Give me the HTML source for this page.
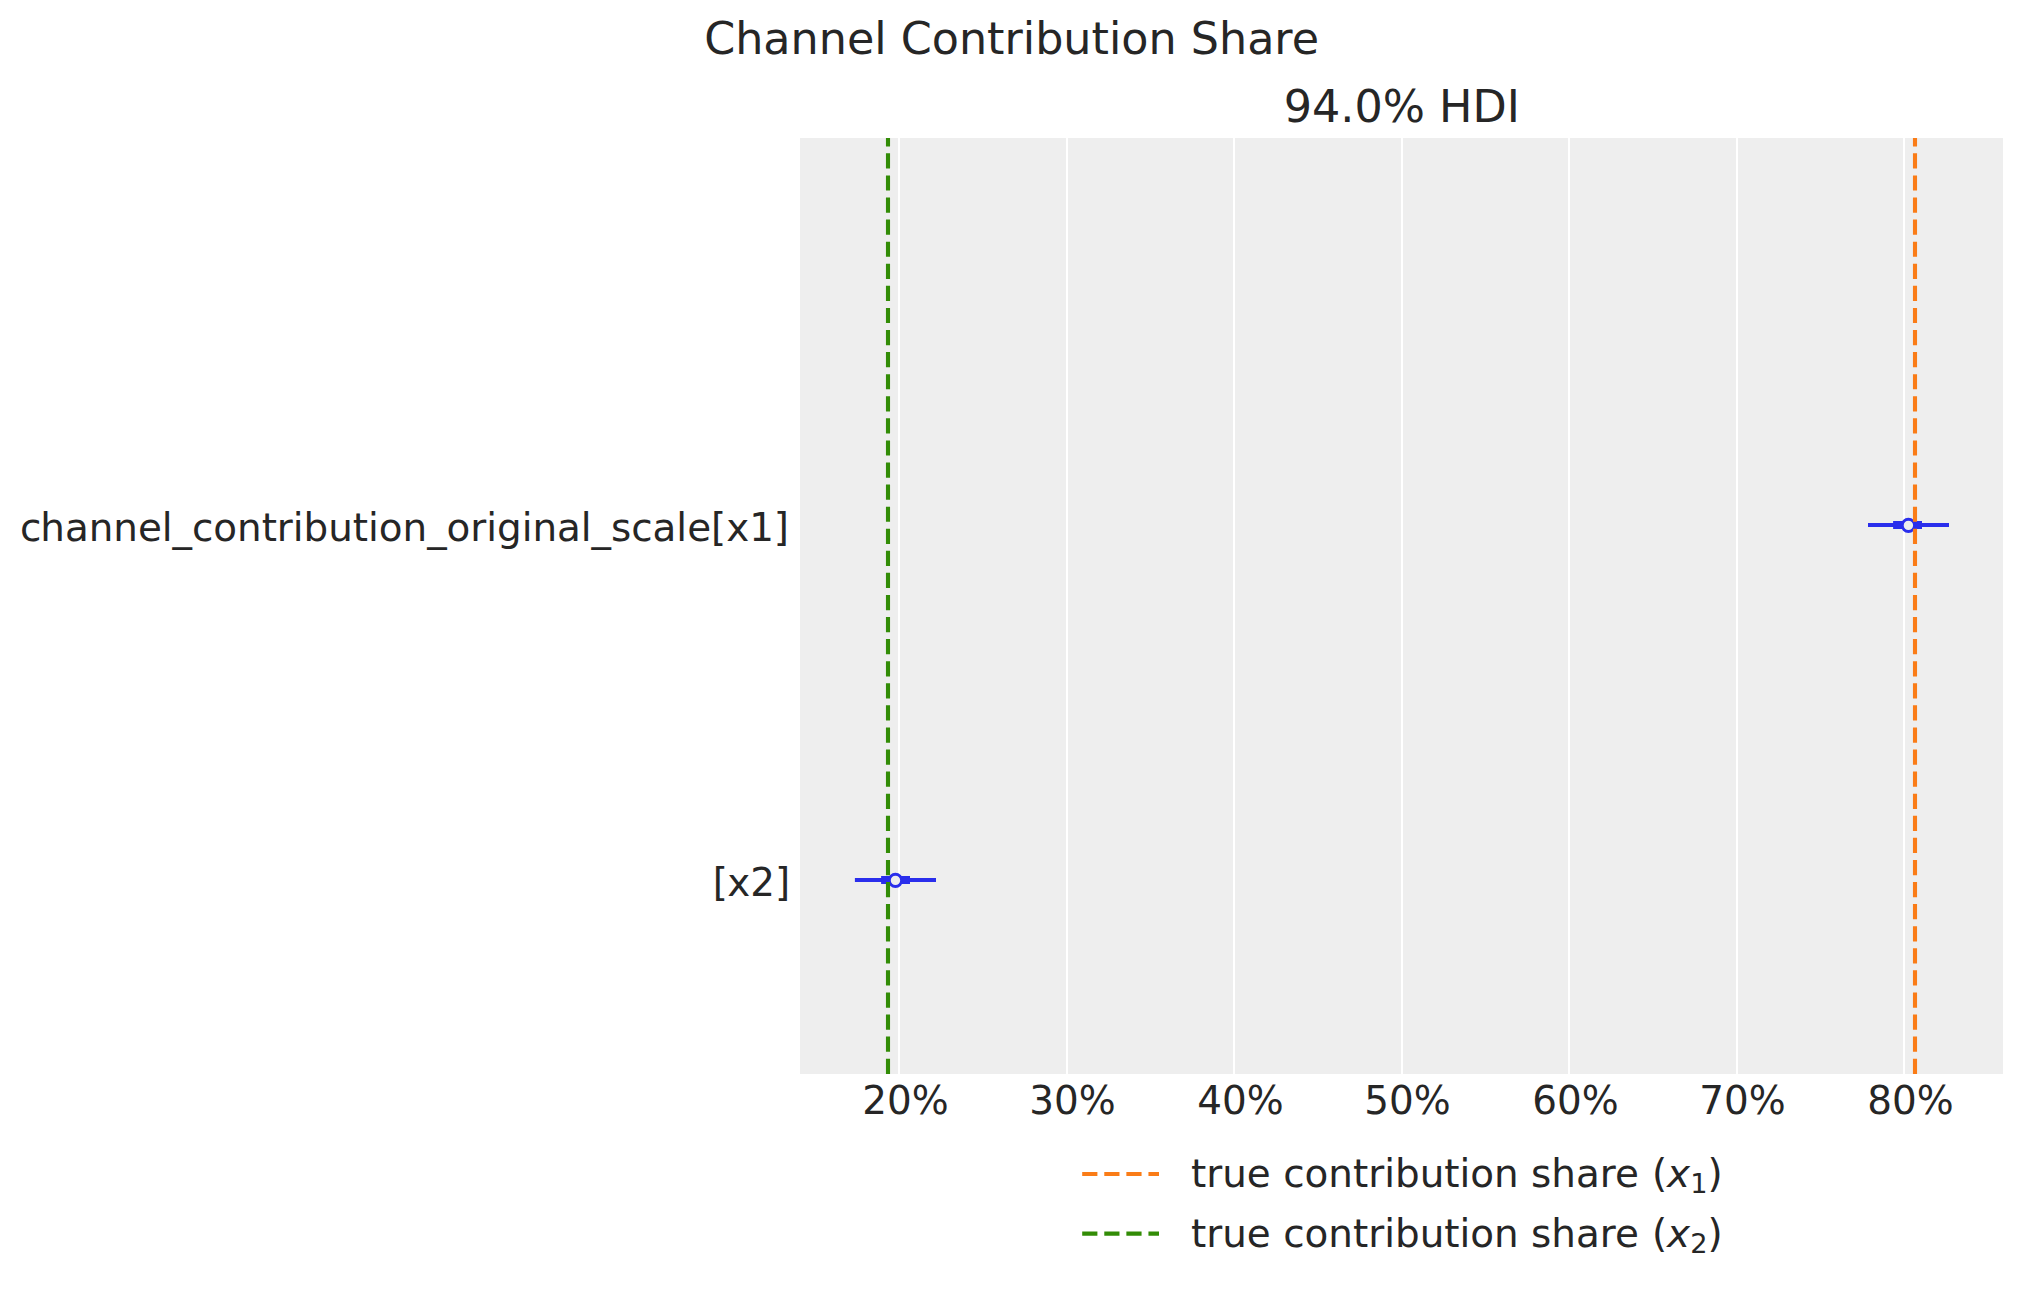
<!DOCTYPE html>
<html lang="en"><head><meta charset="utf-8"><title>Channel Contribution Share</title>
<style>
html,body{margin:0;padding:0;background:#fff;}
body{width:2023px;height:1291px;overflow:hidden;}
svg{display:block;}
text{font-family:"DejaVu Sans","Liberation Sans",sans-serif;fill:#262626;}
.t16{font-size:44.44px;}
.t14{font-size:38.89px;}
.it{font-style:oblique;}
</style></head><body>
<svg width="2023" height="1291" viewBox="0 0 2023 1291">
<rect x="0" y="0" width="2023" height="1291" fill="#ffffff"/>
<rect x="800" y="138" width="1203" height="936" fill="#eeeeee"/>
<rect x="898" y="138" width="2" height="936" fill="#ffffff"/>
<rect x="1066" y="138" width="2" height="936" fill="#ffffff"/>
<rect x="1233" y="138" width="2" height="936" fill="#ffffff"/>
<rect x="1401" y="138" width="2" height="936" fill="#ffffff"/>
<rect x="1568" y="138" width="2" height="936" fill="#ffffff"/>
<rect x="1736" y="138" width="2" height="936" fill="#ffffff"/>
<rect x="1903" y="138" width="2" height="936" fill="#ffffff"/>
<line x1="1868.0" y1="525.0" x2="1949.0" y2="525.0" stroke="#2a2eec" stroke-width="4.17"/>
<line x1="1893.1" y1="525.0" x2="1922.0" y2="525.0" stroke="#2a2eec" stroke-width="8.0"/>
<line x1="854.9" y1="880.0" x2="936.0" y2="880.0" stroke="#2a2eec" stroke-width="4.17"/>
<line x1="881.1" y1="880.0" x2="910.0" y2="880.0" stroke="#2a2eec" stroke-width="8.0"/>
<circle cx="1908.4" cy="525.4" r="6.15" fill="#eeeeee" stroke="#2a2eec" stroke-width="2.9"/>
<circle cx="895.46" cy="880.4" r="6.15" fill="#eeeeee" stroke="#2a2eec" stroke-width="2.9"/>
<line x1="1915" y1="1074" x2="1915" y2="138" stroke="#fa7c17" stroke-width="4.1" stroke-dasharray="15.2 6.883" stroke-dashoffset="-0.1"/>
<line x1="888" y1="1074" x2="888" y2="138" stroke="#328c06" stroke-width="4.1" stroke-dasharray="15.2 6.883" stroke-dashoffset="-0.1"/>
<text class="t16" x="1011.6" y="54.3" text-anchor="middle">Channel Contribution Share</text>
<text class="t16" x="1401.8" y="121.8" text-anchor="middle">94.0% HDI</text>
<text class="t14" y="541.4"><tspan x="20.0">c</tspan><tspan x="40.3" textLength="748.7" lengthAdjust="spacing">hannel_contribution_original_scale[x1]</tspan></text>
<text class="t14" y="895.7"><tspan x="712.8">[</tspan><tspan x="727.3">x2]</tspan></text>
<text class="t14" x="905.40" y="1113.8" text-anchor="middle">20%</text>
<text class="t14" x="1072.55" y="1113.8" text-anchor="middle">30%</text>
<text class="t14" x="1240.40" y="1113.8" text-anchor="middle">40%</text>
<text class="t14" x="1407.55" y="1113.8" text-anchor="middle">50%</text>
<text class="t14" x="1575.40" y="1113.8" text-anchor="middle">60%</text>
<text class="t14" x="1742.55" y="1113.8" text-anchor="middle">70%</text>
<text class="t14" x="1910.40" y="1113.8" text-anchor="middle">80%</text>
<line x1="1082.2" y1="1174" x2="1159" y2="1174" stroke="#fa7c17" stroke-width="4.1" stroke-dasharray="15.2 6.883"/>
<line x1="1082.2" y1="1233.6" x2="1159" y2="1233.6" stroke="#328c06" stroke-width="4.1" stroke-dasharray="15.2 6.883"/>
<text class="t14" x="1191.0" y="1187.3">true contribution share <tspan x="1651.9">(</tspan><tspan class="it">x</tspan><tspan font-size="27.2px" dy="5.9" dx="0.1">1</tspan><tspan dy="-5.9" dx="0.1">)</tspan></text>
<text class="t14" x="1191.0" y="1247.0">true contribution share <tspan x="1651.9">(</tspan><tspan class="it">x</tspan><tspan font-size="27.2px" dy="5.9" dx="0.1">2</tspan><tspan dy="-5.9" dx="0.1">)</tspan></text>
</svg></body></html>
